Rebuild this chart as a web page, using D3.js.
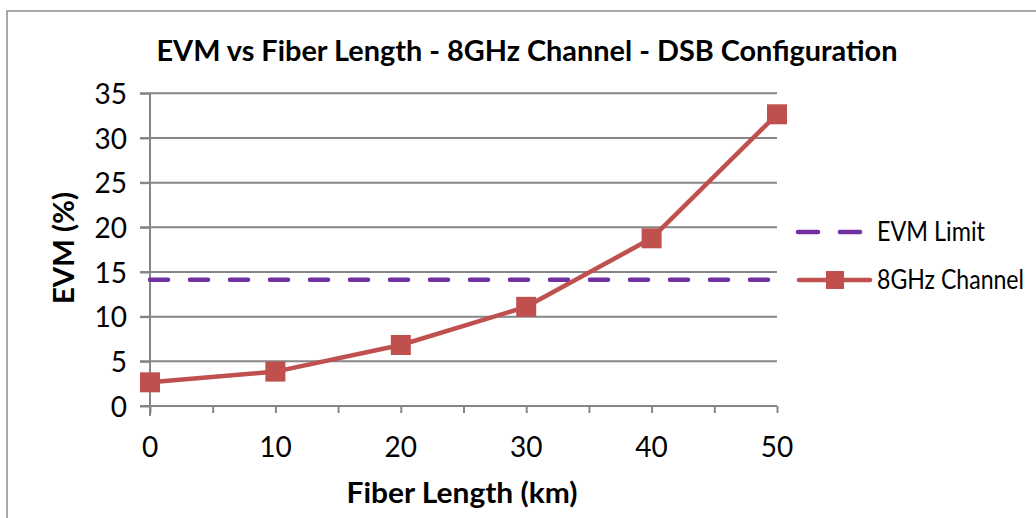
<!DOCTYPE html>
<html>
<head>
<meta charset="utf-8">
<script src="https://cdn.jsdelivr.net/npm/d3@7"></script>
<style>
  html, body { margin: 0; padding: 0; background: #ffffff; }
  svg { display: block; }
  text { font-family: Lato, "Open Sans", sans-serif; fill: #000; }
</style>
</head>
<body>
<svg id="chart" width="1036" height="518"></svg>
<script>
// Fiber length (km) and measured EVM (%) for the 8 GHz channel
const fiberLength = [0, 10, 20, 30, 40, 50];
const evm8GHz = [2.65, 3.85, 6.83, 11.1, 18.77, 32.65];
// EVM threshold
const evmLimit = 14.14;
const xTickValues = [0, 5, 10, 15, 20, 25, 30, 35, 40, 45, 50];
const xTickLabels = [0, 10, 20, 30, 40, 50];
const yTickValues = [0, 5, 10, 15, 20, 25, 30, 35];

const title = "EVM vs Fiber Length - 8GHz Channel - DSB Configuration";
const xTitle = "Fiber Length (km)";
const yTitle = "EVM (%)";
const legendNames = ["EVM Limit", "8GHz Channel"];

const svg = d3.select("#chart");
const gridColor = "#868686";
const lineColor = "#C0504D";
const limitColor = "#7030A0";

// chart frame
svg.append("rect")
  .attr("x", 7).attr("y", 11)
  .attr("width", 1100).attr("height", 600)
  .attr("fill", "none").attr("stroke", "#8c8c8c").attr("stroke-width", 1.5);

const x = d3.scaleLinear().domain([0, 50]).range([150, 777]);
const y = d3.scaleLinear().domain([0, 35]).range([406, 93.3]);

// horizontal gridlines (with small ticks left of the axis)
svg.append("g").selectAll("line").data(yTickValues.filter(v => v > 0)).join("line")
  .attr("x1", 140).attr("x2", x(50))
  .attr("y1", d => y(d)).attr("y2", d => y(d))
  .attr("stroke", gridColor).attr("stroke-width", 2);

// y axis
const yAxis = d3.axisLeft(y).tickValues(yTickValues).tickSize(10).tickPadding(13);
const gy = svg.append("g").attr("transform", `translate(${x(0)},0)`).call(yAxis);
gy.select(".domain").remove();
gy.selectAll(".tick line").attr("stroke", gridColor).attr("stroke-width", 2);
gy.selectAll(".tick text").style("font-size", "28px").attr("dy", "0.36em")
  .style("font-family", "Lato, sans-serif").attr("fill", "#000");
svg.append("line")
  .attr("x1", x(0)).attr("x2", x(0)).attr("y1", y(35)).attr("y2", y(0) + 10)
  .attr("stroke", gridColor).attr("stroke-width", 2);

// x axis line and ticks
svg.append("line")
  .attr("x1", 140).attr("x2", x(50)).attr("y1", y(0)).attr("y2", y(0))
  .attr("stroke", gridColor).attr("stroke-width", 2);
const xAxis = d3.axisBottom(x).tickValues(xTickValues).tickSize(7).tickFormat("");
const gx = svg.append("g").attr("transform", `translate(0,${y(0)})`).call(xAxis);
gx.select(".domain").remove();
gx.selectAll(".tick line").attr("stroke", gridColor).attr("stroke-width", 2);
svg.append("g").selectAll("text").data(xTickLabels).join("text")
  .attr("x", d => x(d)).attr("y", 457)
  .attr("text-anchor", "middle")
  .style("font-size", "28px")
  .text(d => d);

// EVM limit
svg.append("line")
  .attr("x1", x(0)).attr("x2", x(50))
  .attr("y1", y(evmLimit)).attr("y2", y(evmLimit))
  .attr("stroke", limitColor).attr("stroke-width", 4.5)
  .attr("stroke-linecap", "round")
  .attr("stroke-dasharray", "18 22");

// EVM curve
const pts = fiberLength.map((d, i) => [d, evm8GHz[i]]);
svg.append("path")
  .datum(pts)
  .attr("d", d3.line().x(d => x(d[0])).y(d => y(d[1])))
  .attr("fill", "none").attr("stroke", lineColor).attr("stroke-width", 4.5)
  .attr("stroke-linejoin", "round");
const ms = 20;
svg.append("g").selectAll("rect").data(pts).join("rect")
  .attr("x", d => x(d[0]) - ms / 2).attr("y", d => y(d[1]) - ms / 2)
  .attr("width", ms).attr("height", ms)
  .attr("fill", lineColor);

// titles
svg.append("text")
  .attr("x", 527).attr("y", 61).attr("text-anchor", "middle")
  .style("font-size", "28px").style("font-weight", "bold")
  .attr("textLength", 741).attr("lengthAdjust", "spacingAndGlyphs")
  .text(title);
svg.append("text")
  .attr("x", 462).attr("y", 503).attr("text-anchor", "middle")
  .style("font-size", "28px").style("font-weight", "bold")
  .attr("textLength", 231).attr("lengthAdjust", "spacingAndGlyphs")
  .text(xTitle);
svg.append("text")
  .attr("transform", "translate(74,248) rotate(-90)")
  .attr("text-anchor", "middle")
  .style("font-size", "28px").style("font-weight", "bold")
  .attr("textLength", 112).attr("lengthAdjust", "spacingAndGlyphs")
  .text(yTitle);

// legend
const lg = svg.append("g");
lg.append("line").attr("x1", 798).attr("x2", 862).attr("y1", 232).attr("y2", 232)
  .attr("stroke", limitColor).attr("stroke-width", 4.5).attr("stroke-linecap", "round")
  .attr("stroke-dasharray", "20 22");
lg.append("text").attr("x", 877).attr("y", 232).attr("dy", "0.36em")
  .style("font-size", "26px").attr("textLength", 108).attr("lengthAdjust", "spacingAndGlyphs")
  .text(legendNames[0]);
lg.append("line").attr("x1", 799).attr("x2", 870).attr("y1", 280).attr("y2", 280)
  .attr("stroke", lineColor).attr("stroke-width", 4.5).attr("stroke-linecap", "round");
lg.append("rect").attr("x", 835 - 9).attr("y", 280 - 9).attr("width", 18).attr("height", 18)
  .attr("fill", lineColor);
lg.append("text").attr("x", 877).attr("y", 280).attr("dy", "0.36em")
  .style("font-size", "26px").attr("textLength", 147).attr("lengthAdjust", "spacingAndGlyphs")
  .text(legendNames[1]);
</script>
</body>
</html>
